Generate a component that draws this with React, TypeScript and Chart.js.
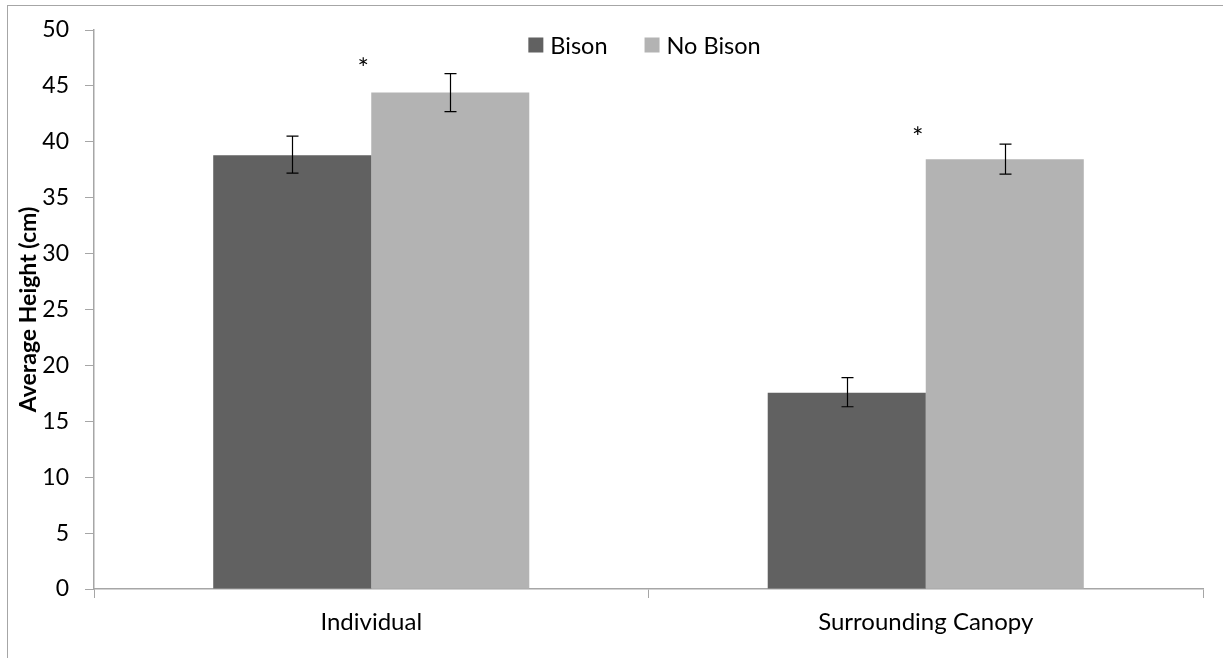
import React, { useEffect, useRef } from "react";
import { Chart, registerables } from "chart.js";

Chart.register(...registerables);

const categories = ["Individual", "Surrounding Canopy"];
const seriesNames = ["Bison", "No Bison"];
const bisonValues = [38.8, 17.55];
const noBisonValues = [44.4, 38.45];
const bisonErrLow = [37.2, 16.3];
const bisonErrHigh = [40.5, 18.9];
const noBisonErrLow = [42.7, 37.1];
const noBisonErrHigh = [46.1, 39.8];
const starValues = [47.15, 40.9];
const yTicks = [0, 5, 10, 15, 20, 25, 30, 35, 40, 45, 50];

const FONT = "Lato, 'Noto Sans', sans-serif";
const AXIS_GRAY = "#a6a6a6";
const BISON_COLOR = "#616161";
const NOBISON_COLOR = "#b3b3b3";

const errorBarsPlugin = {
  id: "errorBars",
  afterDatasetsDraw(chart: any) {
    const ctx = chart.ctx;
    const y = chart.scales.y;
    const lows = [bisonErrLow, noBisonErrLow];
    const highs = [bisonErrHigh, noBisonErrHigh];
    ctx.save();
    ctx.strokeStyle = "#000";
    ctx.lineWidth = 1.2;
    chart.data.datasets.forEach((_: any, di: number) => {
      const meta = chart.getDatasetMeta(di);
      meta.data.forEach((bar: any, i: number) => {
        const x = Math.round(bar.x) + 0.5;
        const yl = y.getPixelForValue(lows[di][i]);
        const yh = y.getPixelForValue(highs[di][i]);
        ctx.beginPath();
        ctx.moveTo(x, yl);
        ctx.lineTo(x, yh);
        ctx.moveTo(x - 6, yl);
        ctx.lineTo(x + 6, yl);
        ctx.moveTo(x - 6, yh);
        ctx.lineTo(x + 6, yh);
        ctx.stroke();
      });
    });
    // significance stars
    const meta1 = chart.getDatasetMeta(1);
    ctx.fillStyle = "#000";
    ctx.font = `27px ${FONT}`;
    ctx.textAlign = "center";
    ctx.textBaseline = "middle";
    meta1.data.forEach((bar: any, i: number) => {
      const left = bar.x - bar.width / 2;
      ctx.fillText("*", left - 8, y.getPixelForValue(starValues[i]) + 7);
    });
    ctx.restore();
  },
};

const legendPlugin = {
  id: "customLegend",
  afterDraw(chart: any) {
    const ctx = chart.ctx;
    const area = chart.chartArea;
    ctx.save();
    ctx.font = `23.5px ${FONT}`;
    const sq = 15;
    const gap = 7;
    const itemGap = 37;
    const colors = [BISON_COLOR, NOBISON_COLOR];
    const widths = seriesNames.map((n) => ctx.measureText(n).width);
    const total =
      widths.reduce((a, b) => a + b, 0) + seriesNames.length * (sq + gap) + itemGap * (seriesNames.length - 1);
    let x = (area.left + area.right) / 2 - 4 - total / 2;
    const cy = 45;
    ctx.textBaseline = "middle";
    ctx.textAlign = "left";
    seriesNames.forEach((n, i) => {
      ctx.fillStyle = colors[i];
      ctx.fillRect(x, cy - sq / 2, sq, sq);
      x += sq + gap;
      ctx.fillStyle = "#000";
      ctx.fillText(n, x, cy + 1);
      x += widths[i] + itemGap;
    });
    ctx.restore();
  },
};

export default function App() {
  const ref = useRef<HTMLCanvasElement>(null);
  useEffect(() => {
    if (!ref.current) return;
    const chart = new Chart(ref.current, {
      type: "bar",
      data: {
        labels: categories,
        datasets: [
          {
            label: seriesNames[0],
            data: bisonValues,
            backgroundColor: BISON_COLOR,
            barPercentage: 1,
            categoryPercentage: 0.57,
          },
          {
            label: seriesNames[1],
            data: noBisonValues,
            backgroundColor: NOBISON_COLOR,
            barPercentage: 1,
            categoryPercentage: 0.57,
          },
        ],
      },
      options: {
        animation: false,
        responsive: false,
        maintainAspectRatio: false,
        layout: { padding: { top: 30, right: 20, left: 0, bottom: 0 } },
        plugins: {
          legend: { display: false },
          tooltip: { enabled: false },
        },
        scales: {
          x: {
            grid: {
              offset: true,
              drawOnChartArea: false,
              tickLength: 9,
              color: AXIS_GRAY,
            },
            border: { color: AXIS_GRAY, width: 1.5 },
            ticks: {
              color: "#000",
              font: { family: FONT, size: 24 },
              padding: 10,
            },
            afterFit: (s: any) => {
              s.height = 69;
            },
          },
          y: {
            min: 0,
            max: 50,
            afterBuildTicks: (s: any) => {
              s.ticks = yTicks.map((v) => ({ value: v }));
            },
            grid: {
              drawOnChartArea: false,
              tickLength: 9,
              color: AXIS_GRAY,
            },
            border: { color: AXIS_GRAY, width: 1.5 },
            ticks: {
              color: "#000",
              font: { family: FONT, size: 23 },
              padding: 16,
            },
            title: {
              display: true,
              text: "Average Height (cm)",
              color: "#000",
              font: { family: FONT, size: 23, weight: "bold" },
              padding: { top: 15, bottom: 0 },
            },
            afterFit: (s: any) => {
              s.width = 94;
            },
          },
        },
      },
      plugins: [errorBarsPlugin, legendPlugin],
    });
    return () => chart.destroy();
  }, []);

  return (
    <div
      style={{
        position: "fixed",
        left: 0,
        top: 0,
        width: 1223,
        height: 658,
        overflow: "hidden",
        background: "#fff",
      }}
    >
      <div
        style={{
          position: "absolute",
          left: 7,
          top: 5,
          width: 1300,
          height: 700,
          border: `1.5px solid ${AXIS_GRAY}`,
          boxSizing: "border-box",
        }}
      />
      <canvas ref={ref} width={1223} height={658} style={{ position: "absolute", left: 0, top: 0 }} />
    </div>
  );
}
